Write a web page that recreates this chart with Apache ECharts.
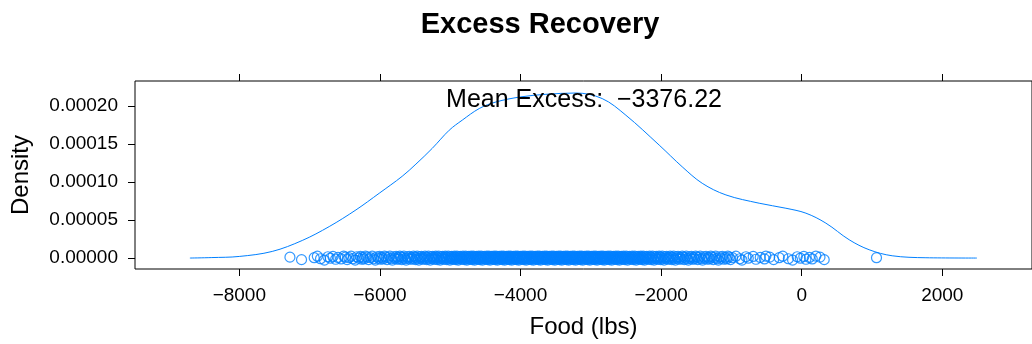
<!DOCTYPE html>
<html><head><meta charset="utf-8">
<script src="https://cdn.jsdelivr.net/npm/echarts@6/dist/echarts.min.js"></script>
<style>html,body{margin:0;padding:0;background:#fff}#c{width:1032px;height:344px}</style>
</head><body><div id="c"></div>
<script>
// Density curve
const densityX = [-8703,-8400,-8001,-7532,-7105,-6721,-6341,-6010,-5683,-5488,-5256,-5014,-4829,-4587,-4350,-4004,-3639,-3212,-2838,-2501,-2027,-1700,-1415,-1078,-605,-225,60,344,676,960,1287,1767,2492];
const densityY = [0,0.0000006,0.0000021,0.0000087,0.0000231,0.0000414,0.0000633,0.0000852,0.0001075,0.0001235,0.0001442,0.0001681,0.0001813,0.0001966,0.0002052,0.0002118,0.0002153,0.000217,0.0002097,0.0001878,0.0001485,0.00012,0.0000983,0.000083,0.0000721,0.0000655,0.000059,0.0000459,0.000024,0.0000109,0.000003,0.0000004,0];
// Observations (rug points, estimated)
const obsX = [-7280,-7115,
 -6935,-6890,-6845,-6790,
 -6740,-6705,-6668,-6630,-6596,-6552,-6515,
 -6492,-6466,-6441,-6410,-6385,-6352,-6330,-6301,-6277,-6258,
 -6246,-6228,-6205,-6181,-6160,-6137,-6110,-6088,-6066,-6043,-6020,-6004,
 -5991,-5975,-5955,-5934,-5916,-5898,-5880,-5858,-5840,-5823,-5806,-5787,-5770,-5756,
 -5745,-5731,-5716,-5702,-5688,-5671,-5659,-5643,-5627,-5611,-5598,-5583,-5567,-5552,-5538,-5522,-5507,
 -5495,-5483,-5470,-5458,-5446,-5433,-5420,-5409,-5396,-5384,-5371,-5358,-5346,-5333,-5322,-5309,-5296,-5284,-5271,-5258,
 -5248,-5237,-5229,-5214,-5206,-5193,-5185,-5171,-5164,-5150,-5143,-5129,-5122,-5108,-5101,-5088,-5077,-5070,-5056,-5049,-5034,-5027,-5013,-5004,
 -4997,-4988,-4979,-4968,-4960,-4951,-4940,-4932,-4921,-4913,-4904,-4893,-4885,-4874,-4866,-4857,-4846,-4838,-4827,-4819,-4810,-4799,-4791,-4780,-4772,-4763,-4755,
 -4746,-4738,-4729,-4720,-4713,-4703,-4696,-4686,-4679,-4670,-4661,-4653,-4644,-4636,-4627,-4618,-4611,-4601,-4594,-4584,-4577,-4568,-4559,-4551,-4542,-4534,-4525,-4516,-4508,
 -4497,-4490,-4481,-4473,-4466,-4457,-4449,-4442,-4433,-4425,-4418,-4409,-4401,-4394,-4385,-4377,-4370,-4361,-4353,-4346,-4337,-4329,-4322,-4313,-4305,-4298,-4289,-4281,-4274,-4265,-4257,
 -4249,-4241,-4233,-4226,-4218,-4210,-4202,-4195,-4187,-4179,-4171,-4164,-4156,-4148,-4140,-4133,-4125,-4117,-4109,-4102,-4094,-4086,-4078,-4071,-4063,-4055,-4047,-4040,-4032,-4024,-4016,-4008,
 -3998,-3991,-3982,-3975,-3967,-3959,-3950,-3944,-3935,-3928,-3919,-3912,-3904,-3896,-3887,-3881,-3872,-3865,-3856,-3849,-3841,-3833,-3824,-3818,-3809,-3802,-3793,-3786,-3778,-3770,-3761,-3755,
 -3747,-3739,-3731,-3722,-3716,-3707,-3700,-3691,-3684,-3676,-3668,-3659,-3653,-3644,-3637,-3628,-3621,-3613,-3605,-3596,-3590,-3581,-3574,-3565,-3558,-3550,-3542,-3533,-3527,-3518,-3511,-3503,
 -3496,-3489,-3481,-3474,-3466,-3458,-3451,-3443,-3436,-3428,-3420,-3413,-3405,-3398,-3390,-3382,-3375,-3367,-3360,-3352,-3344,-3337,-3329,-3322,-3314,-3306,-3299,-3291,-3284,-3276,-3268,-3261,-3254,
 -3246,-3238,-3231,-3222,-3215,-3207,-3199,-3191,-3184,-3176,-3168,-3160,-3153,-3145,-3137,-3129,-3122,-3114,-3106,-3098,-3091,-3083,-3075,-3067,-3060,-3052,-3044,-3036,-3029,-3021,-3013,-3005,
 -2997,-2990,-2981,-2974,-2966,-2958,-2950,-2943,-2934,-2927,-2919,-2911,-2903,-2896,-2887,-2880,-2872,-2864,-2856,-2849,-2840,-2833,-2825,-2817,-2809,-2802,-2793,-2786,-2778,-2770,-2762,-2755,
 -2746,-2737,-2729,-2720,-2712,-2703,-2695,-2686,-2678,-2669,-2661,-2652,-2644,-2635,-2627,-2618,-2610,-2601,-2593,-2584,-2576,-2567,-2559,-2550,-2542,-2533,-2525,-2516,-2507,
 -2496,-2487,-2477,-2468,-2458,-2449,-2440,-2430,-2421,-2411,-2402,-2393,-2383,-2374,-2364,-2355,-2346,-2336,-2327,-2317,-2308,-2299,-2289,-2280,-2270,-2261,-2253,
 -2246,-2236,-2225,-2215,-2204,-2194,-2184,-2173,-2163,-2152,-2142,-2132,-2121,-2111,-2100,-2090,-2080,-2069,-2059,-2048,-2038,-2028,-2017,-2006,
 -1995,-1983,-1970,-1958,-1946,-1933,-1921,-1908,-1896,-1884,-1871,-1859,-1846,-1834,-1822,-1809,-1797,-1784,-1772,-1759,
 -1744,-1729,-1715,-1700,-1686,-1671,-1656,-1642,-1627,-1612,-1598,-1583,-1569,-1554,-1539,-1525,-1508,
 -1494,-1478,-1461,-1444,-1428,-1411,-1394,-1378,-1361,-1344,-1328,-1311,-1294,-1278,-1259,
 -1243,-1224,-1205,-1185,-1166,-1147,-1128,-1108,-1089,-1070,-1051,-1031,-1012,
 -985,-936,-880,-850,-794,-760,-690,-651,-590,-530,
 -509,-455,-400,-320,-270,-190,-130,-64,-20,
 30,60,110,150,202,260,320,
 1064];
// small vertical jitter of the rug points (estimated, cycled over the points)
const obsJitter = [0.0000012,-0.0000021,0.0000005,0.0000024,-0.0000009,-0.0000026,0.0000017,-0.0000002,0.0000021,-0.0000016,0.0000008,-0.0000012,0.0000026];
const xTicks = [-8000,-6000,-4000,-2000,0,2000];
const yTicks = [0,0.00005,0.0001,0.00015,0.0002];
const titleText = 'Excess Recovery';
const xName = 'Food (lbs)';
const yName = 'Density';
const note = 'Mean Excess:  \u22123376.22';

const FONT = 'Liberation Sans';
const COL = '#0080ff';
const fmtX = v => v < 0 ? '\u2212' + Math.abs(v) : String(v);
const tickStyle = {show:true, inside:false, length:7, lineStyle:{color:'#000', width:1}};

const chart = echarts.init(document.getElementById('c'), null, {renderer:'canvas'});
chart.setOption({
  animation:false,
  backgroundColor:'#fff',
  title:{text:titleText, left:540, top:10, textAlign:'center', padding:0,
    textStyle:{fontFamily:FONT, fontSize:29, fontWeight:'bold', color:'#000'}},
  grid:{left:135, right:-1, top:81, bottom:75, show:true, borderColor:'#000', borderWidth:1, backgroundColor:'transparent', containLabel:false},
  graphic:[{type:'text', x:584, y:100, z:10,
    style:{text:note, fontFamily:FONT, fontSize:25, fill:'#000', align:'center', verticalAlign:'middle', textAlign:'center', textVerticalAlign:'middle'}}],
  xAxis:[{type:'value', min:-9484, max:3276, position:'bottom',
      name:xName, nameLocation:'middle', nameGap:46,
      nameTextStyle:{fontFamily:FONT, fontSize:24, color:'#000'},
      axisLine:{show:false, onZero:false}, splitLine:{show:false},
      axisTick:Object.assign({customValues:xTicks}, tickStyle),
      axisLabel:{show:true, margin:17, fontFamily:FONT, fontSize:19, color:'#000', customValues:xTicks, formatter:fmtX}},
    {type:'value', min:-9484, max:3276, position:'top',
      axisLine:{show:false, onZero:false}, splitLine:{show:false},
      axisTick:Object.assign({customValues:xTicks}, tickStyle),
      axisLabel:{show:false, customValues:xTicks}}],
  yAxis:[{type:'value', min:-0.0000144, max:0.0002328, position:'left',
      name:yName, nameLocation:'middle', nameGap:102, nameRotate:90,
      nameTextStyle:{fontFamily:FONT, fontSize:24, color:'#000'},
      axisLine:{show:false, onZero:false}, splitLine:{show:false},
      axisTick:Object.assign({customValues:yTicks}, tickStyle),
      axisLabel:{show:true, margin:17, fontFamily:FONT, fontSize:19, color:'#000', customValues:yTicks, formatter:v=>v.toFixed(5)}}],
  series:[
    {type:'line', xAxisIndex:0, yAxisIndex:0, data:densityX.map((x,i)=>[x,densityY[i]]),
      showSymbol:false, smooth:0.35, lineStyle:{color:COL, width:1}, itemStyle:{color:COL}, z:3},
    {type:'scatter', xAxisIndex:0, yAxisIndex:0, data:obsX.map((x,i)=>[x,obsJitter[i % obsJitter.length]]),
      symbol:'circle', symbolSize:10, large:false,
      itemStyle:{color:'rgba(0,0,0,0)', borderColor:COL, borderWidth:1.2}, z:2}
  ]
});
</script></body></html>
